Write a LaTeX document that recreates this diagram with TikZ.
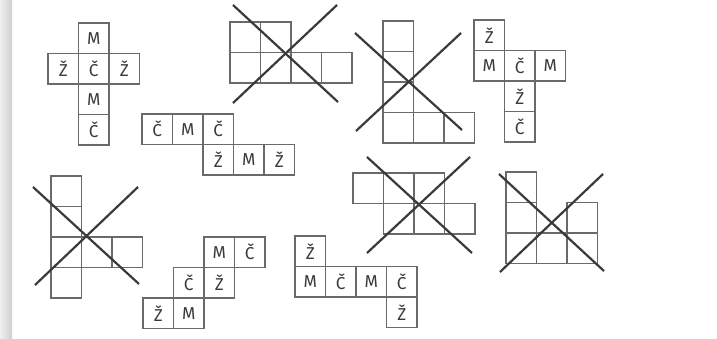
\documentclass[tikz,border=0pt]{standalone}
\usepackage{fontspec}
\setmainfont{Fira Sans}
\definecolor{gridgray}{HTML}{6A6A6A}
\definecolor{inkgray}{HTML}{3A3A3A}
\begin{document}
\begin{tikzpicture}[
    x=0.5pt, y=-0.5pt,
    cell/.style={draw=gridgray, line width=0.6pt, minimum size=15.25pt, inner sep=0pt,
                 text=inkgray, font=\fontsize{8.6}{10}\selectfont},
    cross/.style={draw=inkgray, line width=1.1pt},
]
    \useasboundingbox (0,0) rectangle (717,338);
    % scan edge
    \shade[left color=gray!12, right color=gray!38] (0,0) rectangle (12,338);
    % Net 1
    \begin{scope}[shift={(48,23)}]
        \foreach \c/\r/\t in {1/0/M, 0/1/Ž, 1/1/Č, 2/1/Ž, 1/2/M, 1/3/Č}
            \node[cell] (a-\c-\r) at (\c*30.5+15.25, \r*30.5+15.25) {\t};
    \end{scope}
    % Net 2
    \begin{scope}[shift={(142,114)}]
        \foreach \c/\r/\t in {0/0/Č, 1/0/M, 2/0/Č, 2/1/Ž, 3/1/M, 4/1/Ž}
            \node[cell] (b-\c-\r) at (\c*30.5+15.25, \r*30.5+15.25) {\t};
    \end{scope}
    % Net 3 (crossed out)
    \begin{scope}[shift={(230,22)}]
        \foreach \c/\r in {0/0, 1/0, 0/1, 1/1, 2/1, 3/1}
            \node[cell] (c-\c-\r) at (\c*30.5+15.25, \r*30.5+15.25) {};
    \end{scope}
    \draw[cross] (233,5) -- (338,102);
    \draw[cross] (337,5) -- (233,103);
    % Net 4 (crossed out)
    \begin{scope}[shift={(383,21)}]
        \foreach \c/\r in {0/0, 0/1, 0/2, 0/3, 1/3, 2/3}
            \node[cell] (d-\c-\r) at (\c*30.5+15.25, \r*30.5+15.25) {};
    \end{scope}
    \draw[cross] (355,33) -- (462,130);
    \draw[cross] (461,33) -- (356,131);
    % Net 5
    \begin{scope}[shift={(474,20)}]
        \foreach \c/\r/\t in {0/0/Ž, 0/1/M, 1/1/Č, 2/1/M, 1/2/Ž, 1/3/Č}
            \node[cell] (e-\c-\r) at (\c*30.5+15.25, \r*30.5+15.25) {\t};
    \end{scope}
    % Net 6 (crossed out)
    \begin{scope}[shift={(51,176)}]
        \foreach \c/\r in {0/0, 0/1, 0/2, 1/2, 2/2, 0/3}
            \node[cell] (f-\c-\r) at (\c*30.5+15.25, \r*30.5+15.25) {};
    \end{scope}
    \draw[cross] (33,187) -- (139,284);
    \draw[cross] (138,187) -- (35,285);
    % Net 7
    \begin{scope}[shift={(143,237)}]
        \foreach \c/\r/\t in {2/0/M, 3/0/Č, 1/1/Č, 2/1/Ž, 0/2/Ž, 1/2/M}
            \node[cell] (g-\c-\r) at (\c*30.5+15.25, \r*30.5+15.25) {\t};
    \end{scope}
    % Net 8
    \begin{scope}[shift={(295,236)}]
        \foreach \c/\r/\t in {0/0/Ž, 0/1/M, 1/1/Č, 2/1/M, 3/1/Č, 3/2/Ž}
            \node[cell] (h-\c-\r) at (\c*30.5+15.25, \r*30.5+15.25) {\t};
    \end{scope}
    % Net 9 (crossed out)
    \begin{scope}[shift={(353,173)}]
        \foreach \c/\r in {0/0, 1/0, 2/0, 1/1, 2/1, 3/1}
            \node[cell] (i-\c-\r) at (\c*30.5+15.25, \r*30.5+15.25) {};
    \end{scope}
    \draw[cross] (367,157) -- (472,253);
    \draw[cross] (470,157) -- (367,253);
    % Net 10 (crossed out)
    \begin{scope}[shift={(506,172)}]
        \foreach \c/\r in {0/0, 0/1, 0/2, 1/2, 2/2, 2/1}
            \node[cell] (j-\c-\r) at (\c*30.5+15.25, \r*30.5+15.25) {};
    \end{scope}
    \draw[cross] (499,174) -- (604,271);
    \draw[cross] (603,174) -- (500,272);
\end{tikzpicture}
\end{document}
